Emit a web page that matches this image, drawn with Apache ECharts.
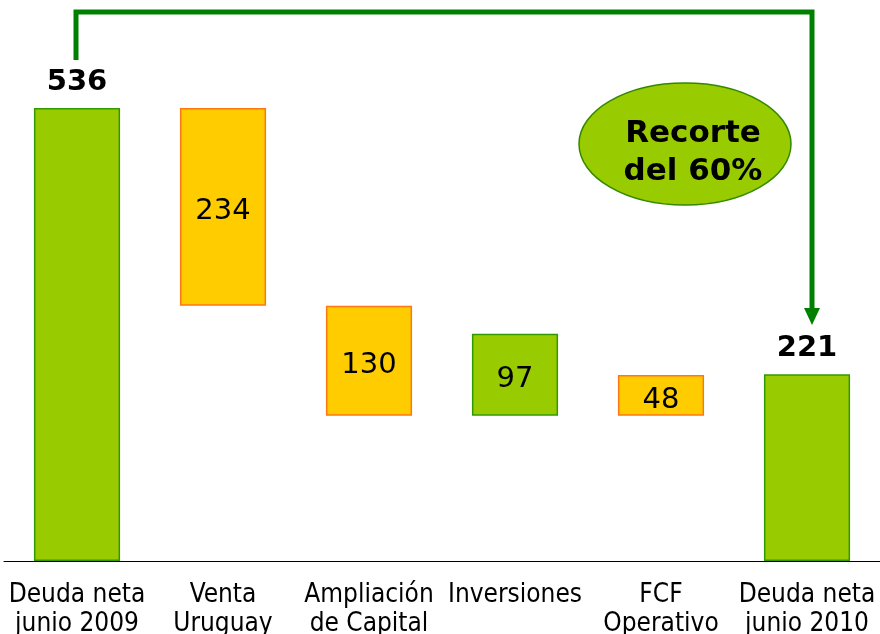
<!DOCTYPE html>
<html>
<head>
<meta charset="utf-8">
<script src="https://cdn.jsdelivr.net/npm/echarts@6/dist/echarts.min.js"></script>
<style>
	html, body { margin: 0; padding: 0; background: #fff; }
	#main { width: 880px; height: 634px; }
</style>
</head>
<body>
<div id="main"></div>
<script>
// categorias y valores (millones)
var categories = ['Deuda neta\njunio 2009', 'Venta\nUruguay', 'Ampliación\nde Capital', 'Inversiones', 'FCF\nOperativo', 'Deuda neta\njunio 2010'];
var values = [536, 234, 130, 97, 48, 221];
// donde arranca cada barra (tal como en la lámina)
var bases = [0, 302, 172, 172, 172, 0];
var kinds = ['total', 'neg', 'neg', 'pos', 'neg', 'total'];
var calloutText = 'Recorte\ndel 60%';

var green = '#99cc00', greenLine = '#339900';
var orange = '#ffcc00', orangeLine = '#ff7711';

var chart = echarts.init(document.getElementById('main'));

var option = {
	animation: false,
	grid: { left: 4, right: 0, top: 54, bottom: 73, outerBoundsMode: 'none', containLabel: false },
	xAxis: {
		type: 'category',
		data: categories,
		axisLine: { lineStyle: { color: '#000', width: 1 } },
		axisTick: { show: false },
		axisLabel: {
			interval: 0,
			color: '#000',
			fontFamily: 'DejaVu Sans Condensed',
			fontSize: 26,
			lineHeight: 29,
			margin: 20
		}
	},
	yAxis: {
		type: 'value',
		min: 0,
		max: 600,
		show: false,
		splitLine: { show: false }
	},
	series: [{
		type: 'bar',
		stack: 'w',
		silent: true,
		barWidth: '59%',
		itemStyle: { color: 'transparent' },
		data: bases
	}, {
		type: 'bar',
		stack: 'w',
		barWidth: '59%',
		data: values.map(function(v, i) {
			var k = kinds[i];
			var up = k !== 'neg';
			return {
				value: v,
				itemStyle: {
					color: up ? green : orange,
					borderColor: up ? greenLine : orangeLine,
					borderWidth: 1.5
				},
				label: k === 'total' ? {
					show: true,
					position: 'top',
					distance: 11,
					color: '#000',
					fontFamily: 'DejaVu Sans',
					fontWeight: 'bold',
					fontSize: 29
				} : {
					show: true,
					position: 'inside',
					offset: [0, 5],
					color: '#000',
					fontFamily: 'DejaVu Sans',
					fontSize: 29
				}
			};
		})
	}]
};

chart.setOption(option);

// flecha verde y elipse
var x0 = chart.convertToPixel({ xAxisIndex: 0 }, 0) - 1;
var x5 = chart.convertToPixel({ xAxisIndex: 0 }, categories.length - 1) + 5;
var topY = 12;

chart.setOption({
	graphic: [{
		type: 'polyline',
		shape: { points: [[x0, 60], [x0, topY], [x5, topY], [x5, 310]] },
		style: { stroke: '#008000', lineWidth: 5, fill: null },
		z: 10
	}, {
		type: 'polygon',
		shape: { points: [[x5 - 8, 308], [x5 + 8, 308], [x5, 325]] },
		style: { fill: '#008000' },
		z: 10
	}, {
		type: 'ellipse',
		shape: { cx: 685, cy: 144, rx: 106, ry: 61 },
		style: { fill: green, stroke: '#338800', lineWidth: 1.5 },
		z: 10
	}, {
		type: 'text',
		x: 693,
		y: 153,
		style: {
			text: calloutText,
			align: 'center',
			verticalAlign: 'middle',
			fontFamily: 'DejaVu Sans',
			fontWeight: 'bold',
			fontSize: 31,
			lineHeight: 38,
			fill: '#000'
		},
		z: 11
	}]
});
</script>
</body>
</html>
